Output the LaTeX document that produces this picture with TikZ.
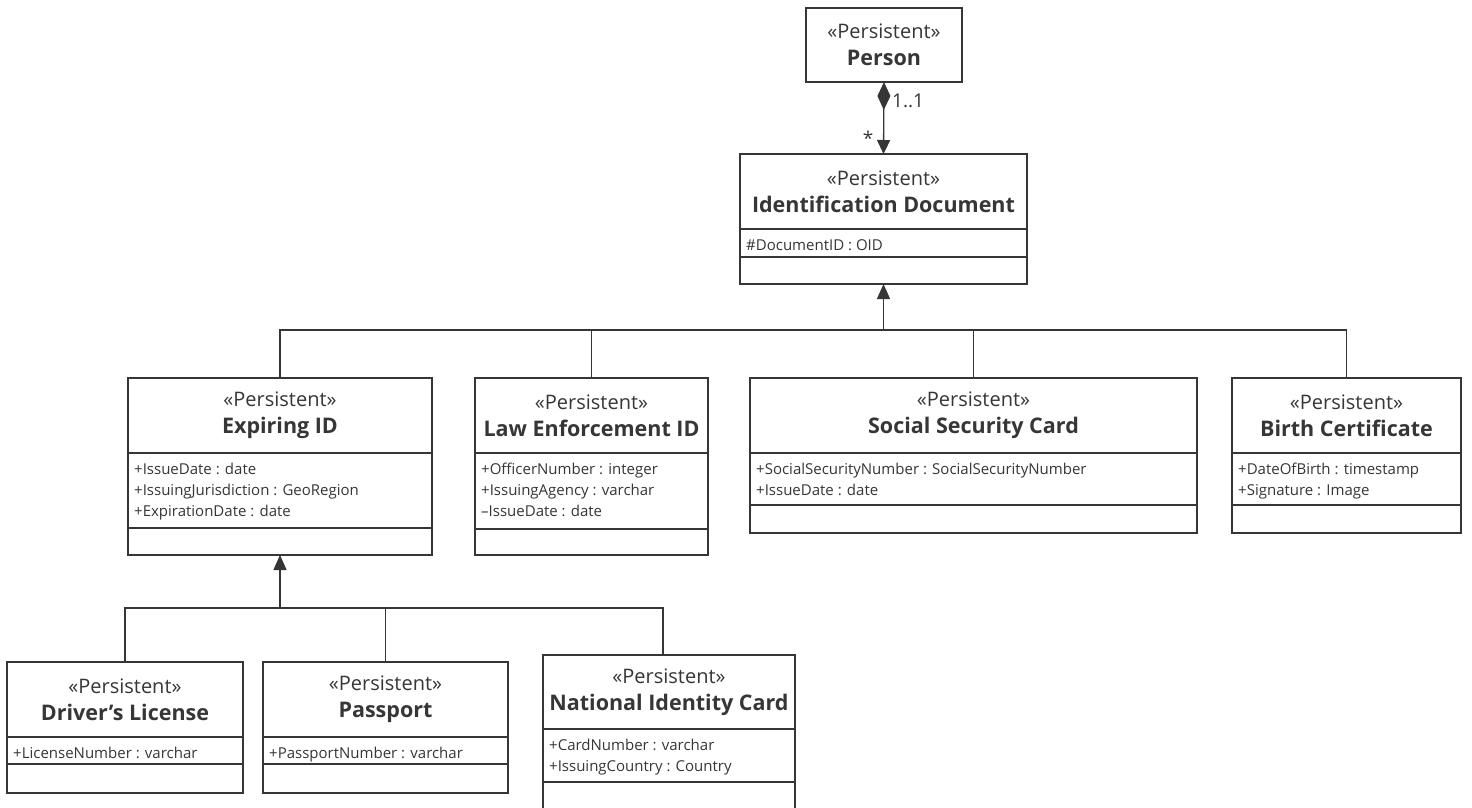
\documentclass[tikz,border=0pt]{standalone}
\usepackage{fontspec}
\setmainfont{Open Sans}
\usetikzlibrary{arrows.meta}
\definecolor{ink}{HTML}{363636}

\tikzset{
  box/.style={draw=ink, line width=1.3pt, inner sep=0pt, outer sep=0pt, anchor=north west},
  sepline/.style={draw=ink, line width=1.3pt},
  head/.style={align=center, text=ink, inner sep=0pt, font=\fontsize{20}{27}\selectfont},
  attrs/.style={align=left, text=ink, inner sep=0pt, anchor=north west, font=\fontsize{15}{21}\selectfont},
  mult/.style={text=ink, inner sep=0pt, font=\fontsize{19}{22}\selectfont},
  link/.style={draw=ink, line width=1.3pt},
  genarrow/.style={-{Triangle[length=15pt,width=13pt]}},
  compose/.style={{Diamond[length=28pt,width=13pt]}-{Triangle[length=14pt,width=13pt]}}
}

% class name set in the heavy title face
\newcommand\clsname[1]{{\fontsize{21.5}{27}\selectfont\bfseries #1}}

% class box: name, left, top, right, header rule, attribute rule, bottom, class name, attributes
\newcommand\umlclass[9]{%
  \node[box, minimum width={#4-#2}, minimum height={#7-#3}] (#1) at (#2,#3) {};
  \draw[sepline] (#2,#5) -- (#4,#5);
  \draw[sepline] (#2,#6) -- (#4,#6);
  \node[head] (#1-head) at ({(#2+#4)/2},{(#3+#5)/2}) {«Persistent»\\\clsname{#8}};
  \node[attrs] (#1-attr) at ({#2+6},{#5+10}) {#9};
}

\begin{document}
\begin{tikzpicture}[x=1pt,y=-1pt]
\useasboundingbox (0,0) rectangle (1472,807);
\clip (0,0) rectangle (1472,807);
\fill[white] (0,0) rectangle (1472,807);

% Person
\node[box, minimum width=156, minimum height=74] (person) at (806,8) {};
\node[head] (person-head) at (884,45) {«Persistent»\\\clsname{Person}};

% Identification Document
\umlclass{iddoc}{740}{154}{1027}{229}{257}{284}{Identification Document}{\#DocumentID : OID}

% first level of subclasses
\umlclass{expid}{128}{378}{432}{453}{528}{555}{Expiring ID}
  {+IssueDate : date\\+IssuingJurisdiction : GeoRegion\\+ExpirationDate : date}
\umlclass{lawid}{475}{378}{708}{453}{529}{555}{Law Enforcement ID}
  {+OfficerNumber : integer\\+IssuingAgency : varchar\\–IssueDate : date}
\umlclass{sscard}{750}{378}{1197}{453}{505}{533}{Social Security Card}
  {+SocialSecurityNumber : SocialSecurityNumber\\+IssueDate : date}
\umlclass{birth}{1232}{378}{1461}{453}{505}{533}{Birth Certificate}
  {+DateOfBirth : timestamp\\+Signature : Image}

% subclasses of Expiring ID
\umlclass{drivers}{7}{662}{243}{737}{764}{793}{Driver’s License}{+LicenseNumber : varchar}
\umlclass{passport}{263}{662}{508}{737}{764}{793}{Passport}{+PassportNumber : varchar}
\umlclass{natid}{543}{655}{795}{729}{782}{812}{National Identity Card}
  {+CardNumber : varchar\\+IssuingCountry : Country}

% composition Person -> Identification Document
\draw[link, compose] (person.south) -- (iddoc.north);
\node[mult, anchor=west] (m11) at (892,101) {1..1};
\node[mult] (mstar) at (868,138) {*};

% generalization to Identification Document
\coordinate (bar1) at (iddoc.south |- 0,330);
\draw[link, genarrow] (bar1) -- (iddoc.south);
\draw[link] (expid.north) |- (bar1);
\draw[link] (birth.north) |- (bar1);
\draw[link] (lawid.north) -- (lawid.north |- bar1);
\draw[link] (sscard.north) -- (sscard.north |- bar1);

% generalization to Expiring ID
\coordinate (bar2) at (expid.south |- 0,608);
\draw[link, genarrow] (bar2) -- (expid.south);
\draw[link] (drivers.north) |- (bar2);
\draw[link] ([xshift=-6pt]natid.north) |- (bar2);
\draw[link] (passport.north) -- (passport.north |- bar2);
\end{tikzpicture}
\end{document}
